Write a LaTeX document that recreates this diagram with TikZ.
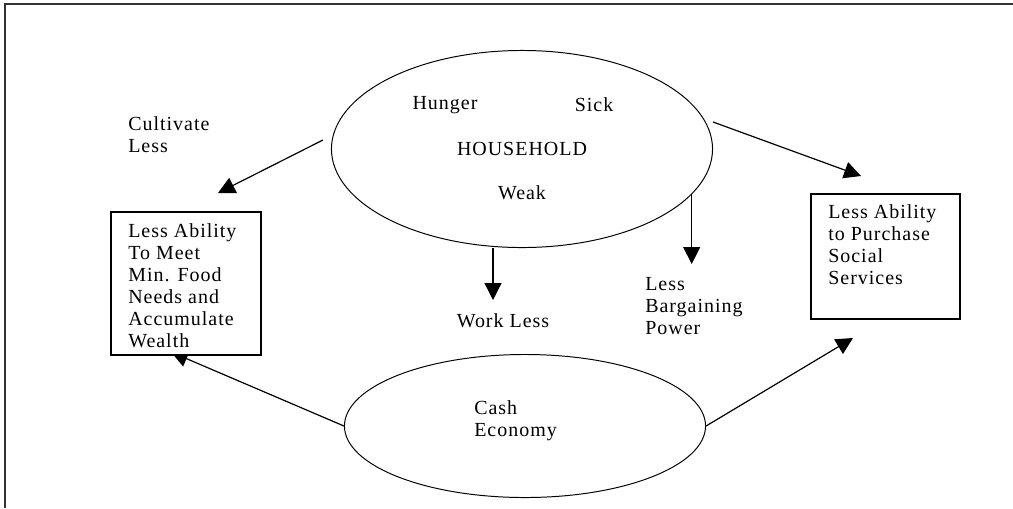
\documentclass[tikz,border=0pt]{standalone}
\usepackage{fontspec}
\setmainfont{Liberation Serif}[LetterSpace=5]
\usepackage{tikz}
\usetikzlibrary{calc,arrows.meta,shapes.geometric}

\begin{document}
\begin{tikzpicture}[x=0.025cm, y=-0.025cm,
	font=\fontsize{14.2}{15.6}\selectfont,
	blob/.style={draw, ellipse, line width=0.7pt, inner sep=0pt},
	boxed/.style={draw, line width=1.1pt, fill=white, inner sep=0pt},
	txt/.style={inner sep=0pt, align=left},
	arr/.style={line width=0.85pt, -{Triangle[length=12pt,width=12pt]}}]
			%%%%% START %%%%%
			
			\useasboundingbox (0, 0) rectangle (1013, 508);
			\draw[line width=1.4pt, color=black!80] (5, 508) -- (5, 4) -- (1013, 4);
			
			\node[blob, minimum width=9.525cm, minimum height=4.925cm] (hh) at (522, 149) {HOUSEHOLD};
			\node[txt] (hunger) at (445, 105) {Hunger};
			\node[txt] (sick) at (594, 105) {Sick};
			\node[txt] (weak) at (522, 193) {Weak};
			
			\node[blob, minimum width=9.025cm, minimum height=3.575cm] (cash) at (525, 426) {};
			\node[txt, anchor=west] (cashtxt) at (474, 421) {Cash\\Economy};
			
			\coordinate (cultTip) at (218, 193);
			\coordinate (purchTip) at (861, 176);
			\coordinate (workTip) at (493, 300);
			\coordinate (barTip) at (692, 264);
			\coordinate (wealthTip) at (171, 352);
			\coordinate (serviceTip) at (853, 338);
			
			\draw[arr] ($(hh.west)+(-8, -9)$) -- (cultTip);
			\draw[arr] ($(hh.east)+(0, -27)$) -- (purchTip);
			\draw[arr] (hh.south -| workTip) -- (workTip);
			\draw[arr] (hh.-15) -- (hh.-15 |- barTip);
			\draw[arr] (cash.west) -- (wealthTip);
			\draw[arr] (cash.east) -- (serviceTip);
			
			\node[txt, anchor=west] (cult) at (128, 135) {Cultivate\\Less};
			\node[txt] (work) at (503, 321) {Work Less};
			\node[txt, anchor=west] (bargain) at (645, 306) {Less\\Bargaining\\Power};
			
			\node[boxed, minimum width=3.75cm, minimum height=3.575cm] (food) at (186, 283.5) {};
			\node[txt, anchor=west] (foodtxt) at (128, 286) {Less Ability\\To Meet\\Min. Food\\Needs and\\Accumulate\\Wealth};
			
			\node[boxed, minimum width=3.725cm, minimum height=3.125cm] (purch) at (885.5, 256.5) {};
			\node[txt, anchor=west] (purchtxt) at (828, 245) {Less Ability\\to Purchase\\Social\\Services};
			
			%%%%% END %%%%%
\end{tikzpicture}
\end{document}
